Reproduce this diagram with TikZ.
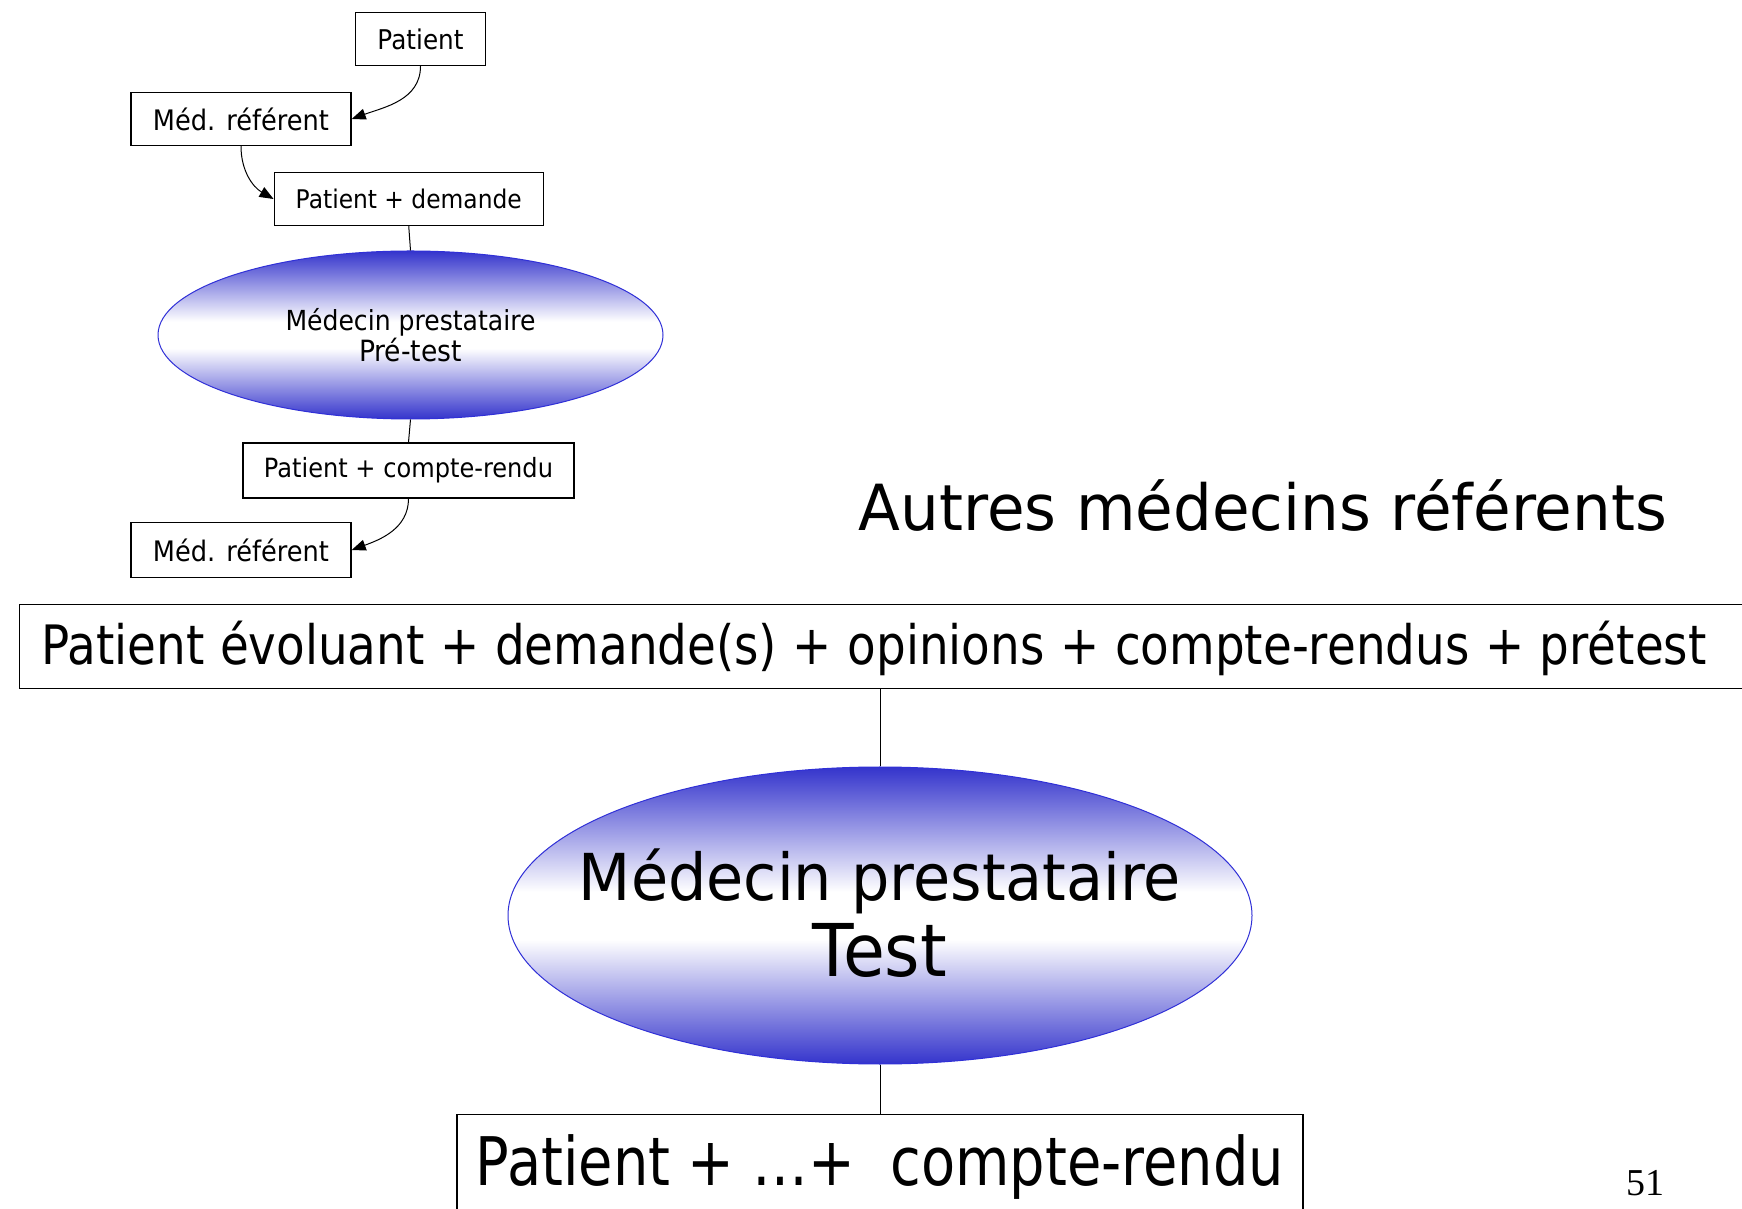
\documentclass[tikz,border=0pt]{standalone}
\usepackage{graphicx}
\usepackage{fontspec}
\setmainfont{DejaVu Sans}
\newfontfamily\pagenumfont{Liberation Serif}
\usetikzlibrary{shapes.geometric,arrows.meta}

% scale a text to a given width (pt) after stretching it vertically
\newcommand\fitw[3]{\resizebox{#1pt}{!}{\scalebox{1}[#2]{#3}}}

\definecolor{shadeblue}{RGB}{52,52,204}
\definecolor{rimblue}{RGB}{48,48,215}

% blue at top and bottom, fading to a white band in the middle
\pgfdeclareverticalshading{ovalshade}{100bp}{%
  color(0bp)=(shadeblue); color(25bp)=(shadeblue);
  color(46bp)=(white); color(54bp)=(white);
  color(75bp)=(shadeblue); color(100bp)=(shadeblue)}

\tikzset{
  box/.style={draw=black, line width=1.4pt, fill=white, inner sep=0pt, minimum height=53pt},
  oval/.style={ellipse, draw=rimblue, line width=1pt, inner sep=0pt, shading=ovalshade},
  link/.style={draw=black, line width=1pt},
  flow/.style={link, -{Triangle[length=14pt,width=11pt]}},
}

\begin{document}
\begin{tikzpicture}[x=1pt,y=1pt]
\useasboundingbox[fill=white] (0,0) rectangle (1742,1208);

% small pre-test chain
\node[box, minimum width=130pt] (pat) at (420.5,1169) {\fitw{86}{1.1}{Patient}};
\node[box, minimum width=220pt] (mr1) at (241,1089) {\fitw{176}{1.1}{Méd. référent}};
\node[box, minimum width=269pt] (pd) at (408.75,1009) {\fitw{226}{1.1}{Patient + demande}};
\node[oval, minimum width=505pt, minimum height=168pt] (e1) at (410.5,873) {};
\node[align=center, inner sep=0pt, font=\fontsize{10}{31}\selectfont] (e1t) at (e1.center)
      {\fitw{250}{1.1}{Médecin prestataire}\\\fitw{103}{1.1}{Pré-test}};
\node[box, minimum width=331pt, minimum height=55pt] (pcr) at (408.5,737.5) {\fitw{289}{1.1}{Patient + compte-rendu}};
\node[box, minimum width=220pt, minimum height=55pt] (mr2) at (241,658) {\fitw{176}{1.1}{Méd. référent}};

\draw[flow] (pat.south) to[out=-90,in=20] (mr1.east);
\draw[flow] (mr1.south) to[out=-90,in=150] (pd.west);
\draw[link] (pd.south) -- (e1.north);
\draw[link] (e1.south) -- (pcr.north);
\draw[flow] (pcr.south) to[out=-90,in=20] (mr2.east);

% heading
\node[anchor=base, inner sep=0pt] (autres) at (1263,677) {\fitw{808}{1.04}{Autres médecins référents}};

% test stage
\node[box, anchor=north west, text width=1700pt, align=left, inner xsep=21.7pt,
      inner ysep=0pt, text height=60pt, text depth=24pt] (evol) at (19,604)
      {\fitw{1665}{1.16}{Patient évoluant + demande(s) + opinions + compte-rendus + prétest}};
\node[oval, minimum width=744pt, minimum height=297pt] (e2) at (880,292.5) {};
\node[align=center, inner sep=0pt, font=\fontsize{10}{76}\selectfont] (e2t) at ([yshift=2pt]e2.center)
      {\fitw{602}{1.07}{Médecin prestataire}\\\fitw{134}{1.07}{Test}};
\node[box, anchor=north, minimum width=846pt, inner ysep=0pt,
      text height=71pt, text depth=60pt] (fin) at (880,94)
      {\fitw{808}{1.2}{Patient + …+\ \ compte-rendu}};

\draw[link] (e2.north) -- (e2.north |- evol.south);
\draw[link] (e2.south) -- (fin.north);

% page number
\node[anchor=base, inner sep=0pt, font=\pagenumfont\fontsize{38}{40}\selectfont] (num) at (1645,13) {51};
\end{tikzpicture}
\end{document}
